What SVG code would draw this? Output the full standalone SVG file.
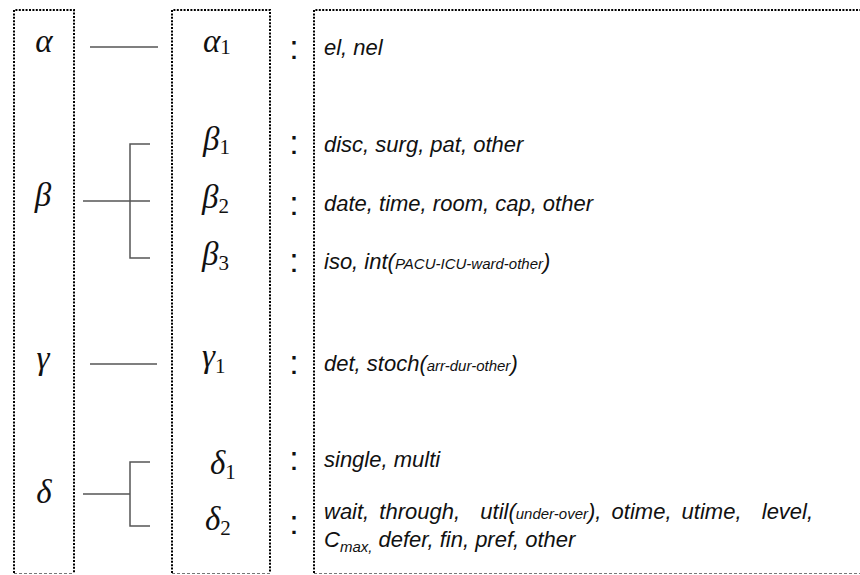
<svg xmlns="http://www.w3.org/2000/svg" width="860" height="575" viewBox="0 0 860 575">
  <style>
    .frame { fill: none; stroke: #000; stroke-width: 2; stroke-dasharray: 2 1.4; }
    .foot { fill: none; stroke: #777; stroke-width: 1; stroke-dasharray: 3 2; }
    .link { fill: none; stroke: #555; stroke-width: 1.5; }
    .sym { font-family: "Liberation Serif", "DejaVu Serif", serif; font-style: italic; font-size: 33px; fill: #111; }
    .sub { font-family: "Liberation Serif", "DejaVu Serif", serif; font-style: normal; font-size: 21px; fill: #111; }
    .colon { font-family: "Liberation Sans", Arial, sans-serif; font-size: 34px; fill: #111; text-anchor: middle; }
    .val { font-family: "Liberation Sans", Arial, sans-serif; font-style: italic; font-size: 22px; fill: #111; }
    .small { font-size: 15px; }
    .pre { white-space: pre; }
    .wide { word-spacing: 4px; }
  </style>

  <!-- column frames -->
  <g id="col-main">
    <path class="frame" d="M14 573 V10 H74 V573"/>
    <path class="foot" d="M14 573.5 H74"/>
    <text class="sym" x="44" y="52" text-anchor="middle">α</text>
    <text class="sym" x="43" y="206" text-anchor="middle">β</text>
    <text class="sym" x="43" y="369" text-anchor="middle">γ</text>
    <text class="sym" x="44" y="503" text-anchor="middle">δ</text>
  </g>

  <g id="col-sub">
    <path class="frame" d="M172 573 V10 H270 V573"/>
    <path class="foot" d="M172 573.5 H270"/>
    <text x="203" y="52"><tspan class="sym">α</tspan><tspan class="sub" y="54">1</tspan></text>
    <text x="203" y="150"><tspan class="sym">β</tspan><tspan class="sub" y="154">1</tspan></text>
    <text x="202" y="208"><tspan class="sym">β</tspan><tspan class="sub" y="213">2</tspan></text>
    <text x="202" y="265"><tspan class="sym">β</tspan><tspan class="sub" y="270">3</tspan></text>
    <text x="202" y="367"><tspan class="sym">γ</tspan><tspan class="sub" y="373">1</tspan></text>
    <text x="210" y="474"><tspan class="sym">δ</tspan><tspan class="sub" y="479">1</tspan></text>
    <text x="205" y="530"><tspan class="sym">δ</tspan><tspan class="sub" y="535">2</tspan></text>
  </g>

  <g id="colons">
    <text class="colon" x="294" y="59">:</text>
    <text class="colon" x="294" y="154">:</text>
    <text class="colon" x="294" y="215">:</text>
    <text class="colon" x="294" y="272">:</text>
    <text class="colon" x="294" y="374">:</text>
    <text class="colon" x="294" y="470">:</text>
    <text class="colon" x="294" y="534">:</text>
  </g>

  <g id="col-values">
    <path class="frame" d="M314 573 V10 H860"/>
    <path class="foot" d="M314 573.5 H860"/>
    <text class="val" x="324" y="55">el, nel</text>
    <text class="val" x="324" y="152">disc, surg, pat, other</text>
    <text class="val" x="324" y="211">date, time, room, cap, other</text>
    <text class="val" x="324" y="269">iso, int(<tspan class="small">PACU-ICU-ward-other</tspan>)</text>
    <text class="val" x="324" y="371">det, stoch(<tspan class="small">arr-dur-other</tspan>)</text>
    <text class="val" x="324" y="467">single, multi</text>
    <text class="val pre wide" x="324" y="519">wait, through,  util(<tspan class="small">under-over</tspan>), otime, utime,  level,</text>
    <text class="val pre" x="324" y="547">C<tspan class="small" dy="5">max,</tspan><tspan dy="-5"> defer, fin, pref, other</tspan></text>
  </g>

  <!-- connectors between the two left columns -->
  <g id="connectors">
    <path class="link" d="M90 47 H158"/>
    <path class="link" d="M83 201 H150 M150 144 H130 V258 H150"/>
    <path class="link" d="M90 364 H157"/>
    <path class="link" d="M83 494 H130 M150 462 H130 V526 H150"/>
  </g>
</svg>
